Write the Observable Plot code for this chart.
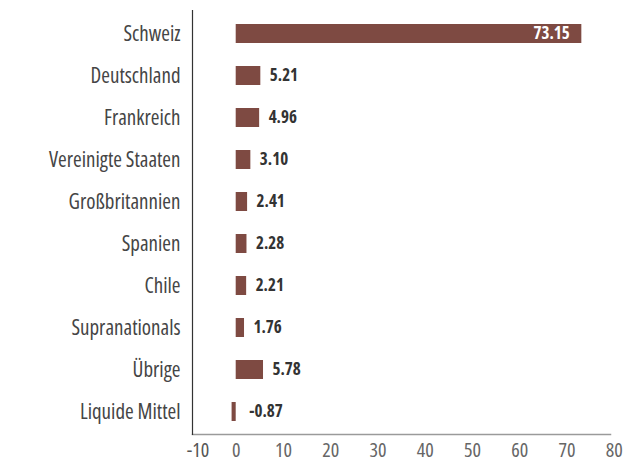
<!DOCTYPE html>
<html>
<head>
<meta charset="utf-8">
<script src="https://cdn.jsdelivr.net/npm/d3@7"></script>
<script src="https://cdn.jsdelivr.net/npm/@observablehq/plot@0.6"></script>
<style>
  html, body { margin: 0; padding: 0; background: #fff; }
  #chart svg { display: block; }
  #chart svg text { font-stretch: condensed; }
</style>
</head>
<body>
<div id="chart"></div>
<script>
const categories = ["Schweiz", "Deutschland", "Frankreich", "Vereinigte Staaten", "Großbritannien", "Spanien", "Chile", "Supranationals", "Übrige", "Liquide Mittel"];
const values = [73.15, 5.21, 4.96, 3.10, 2.41, 2.28, 2.21, 1.76, 5.78, -0.87];
const xTicks = [-10, 0, 10, 20, 30, 40, 50, 60, 70, 80];

const data = categories.map((c, i) => ({category: c, value: values[i]}));
const fontFam = "'Open Sans', sans-serif";
const barColor = "#7e4a42";

const chart = Plot.plot({
  width: 626,
  height: 473,
  marginTop: 10,
  marginBottom: 39,
  marginLeft: 192,
  marginRight: 16,
  style: {fontFamily: fontFam, fontStretch: "condensed", background: "#fff"},
  x: {domain: [-10, 80], range: [188.45, 613.7]},
  y: {domain: categories, paddingInner: 0.55, paddingOuter: 0.31},
  marks: [
    Plot.barX(data, {x: "value", y: "category", fill: barColor}),
    Plot.frame({anchor: "bottom", stroke: "#9a9a9a", strokeWidth: 1.5}),
    Plot.frame({anchor: "left", stroke: "#333", strokeWidth: 1.2}),
    Plot.axisY({tickSize: 0, tickPadding: 12, fontSize: 21, fill: "#454545", label: null}),
    Plot.axisX(xTicks.filter(t => t !== -10), {tickSize: 0, tickPadding: 8, fontSize: 20, fill: "#666", label: null, tickFormat: d => String(d)}),
    Plot.axisX([-10], {tickSize: 0, tickPadding: 8, dx: 9, fontSize: 20, fill: "#555", label: null, tickFormat: d => String(d)}),
    Plot.text(data.filter(d => d.value > 50), {
      x: "value", y: "category", text: d => d.value.toFixed(2),
      textAnchor: "end", dx: -12, fill: "#fff", fontWeight: "bold", fontSize: 17
    }),
    Plot.text(data.filter(d => d.value <= 50), {
      x: d => Math.abs(d.value), y: "category", text: d => d.value.toFixed(2),
      textAnchor: "start", dx: 9, fill: "#333", fontWeight: "bold", fontSize: 17
    })
  ]
});
document.getElementById("chart").appendChild(chart);
</script>
</body>
</html>
